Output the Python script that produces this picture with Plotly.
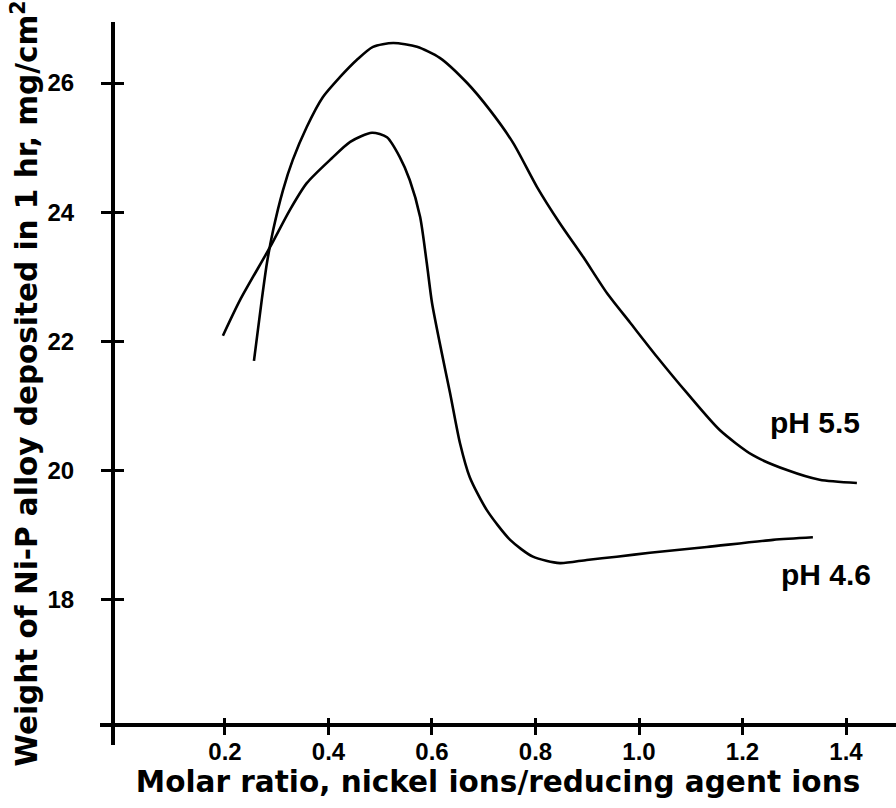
import plotly.graph_objects as go

# pH 5.5 curve (molar ratio, weight mg/cm^2)
ph55_x = [0.256, 0.271, 0.281, 0.293, 0.312, 0.331, 0.358, 0.389, 0.422, 0.455, 0.486,
          0.525, 0.571, 0.615, 0.668, 0.712, 0.757, 0.803, 0.847, 0.892, 0.938, 0.983,
          1.035, 1.093, 1.156, 1.220, 1.286, 1.349, 1.421]
ph55_y = [21.70, 22.64, 23.21, 23.72, 24.34, 24.81, 25.32, 25.78, 26.09, 26.36, 26.56,
          26.62, 26.56, 26.39, 26.00, 25.58, 25.07, 24.39, 23.83, 23.31, 22.75, 22.29,
          21.76, 21.20, 20.63, 20.24, 20.01, 19.86, 19.81]

# pH 4.6 curve
ph46_x = [0.196, 0.229, 0.287, 0.325, 0.358, 0.403, 0.442, 0.484, 0.513, 0.538, 0.557,
          0.577, 0.590, 0.600, 0.619, 0.635, 0.654, 0.673, 0.706, 0.751, 0.795, 0.847,
          0.899, 0.957, 1.021, 1.131, 1.259, 1.336]
ph46_y = [22.09, 22.64, 23.46, 24.03, 24.45, 24.81, 25.09, 25.23, 25.16, 24.85, 24.50,
          23.93, 23.21, 22.60, 21.82, 21.20, 20.43, 19.90, 19.39, 18.93, 18.67, 18.57,
          18.62, 18.67, 18.73, 18.82, 18.93, 18.97]

x_ticks = [0.2, 0.4, 0.6, 0.8, 1.0, 1.2, 1.4]
x_tick_text = ["0.2", "0.4", "0.6", "0.8", "1.0", "1.2", "1.4"]
y_ticks = [18, 20, 22, 24, 26]
y_tick_text = ["18", "20", "22", "24", "26"]

labels = ["pH 5.5", "pH 4.6"]
label_x = [1.341, 1.361]
label_y = [20.75, 18.39]

x_range = [-0.0415, 1.4966]
y_range = [15.756, 26.944]

fig = go.Figure()
fig.add_trace(go.Scatter(x=ph55_x, y=ph55_y, mode="lines", name="pH 5.5",
                         line=dict(color="black", width=2.6, shape="spline", smoothing=0.7)))
fig.add_trace(go.Scatter(x=ph46_x, y=ph46_y, mode="lines", name="pH 4.6",
                         line=dict(color="black", width=2.6, shape="spline", smoothing=0.7)))
# helper trace for the overlay axes (inside tick halves)
fig.add_trace(go.Scatter(x=[None], y=[None], xaxis="x2", yaxis="y2", mode="lines",
                         showlegend=False, hoverinfo="skip"))

for t, lx, ly in zip(labels, label_x, label_y):
    fig.add_annotation(x=lx, y=ly, text="<b>" + t + "</b>", showarrow=False,
                       font=dict(family="Liberation Sans", size=30, color="black"),
                       xanchor="center", yanchor="middle")

tick_font = dict(family="Liberation Sans", size=24, color="black")
title_font = dict(family="DejaVu Sans", size=29.5, color="black")

xpos = 0.0277
ypos = 0.01633

fig.update_layout(
    width=896, height=808,
    margin=dict(l=100, r=0, t=22, b=63),
    paper_bgcolor="white", plot_bgcolor="white",
    showlegend=False,
    xaxis=dict(range=x_range, anchor="free", position=xpos, showgrid=False, zeroline=False,
               showline=True, linecolor="black", linewidth=4,
               ticks="outside", ticklen=8, tickwidth=3, tickcolor="black",
               tickmode="array", tickvals=x_ticks, ticktext=["<b>" + s + "</b>" for s in x_tick_text],
               tickfont=tick_font, automargin=False, ticklabelstandoff=-4,
               title=dict(text="<b>Molar ratio, nickel ions/reducing agent ions</b>",
                          font=title_font, standoff=6)),
    yaxis=dict(range=y_range, anchor="free", position=ypos, showgrid=False, zeroline=False,
               showline=True, linecolor="black", linewidth=4,
               ticks="outside", ticklen=10, tickwidth=3, tickcolor="black",
               tickmode="array", tickvals=y_ticks, ticktext=["<b>" + s + "</b>" for s in y_tick_text],
               tickfont=tick_font, automargin=False, ticklabelstandoff=22,
               title=dict(text="<b>Weight of Ni-P alloy deposited in 1 hr, mg/cm<sup>2</sup></b>",
                          font=title_font, standoff=0)),
    xaxis2=dict(range=x_range, overlaying="x", anchor="free", position=xpos, showgrid=False,
                zeroline=False, showline=False, ticks="inside", ticklen=7, tickwidth=3,
                tickcolor="black", tickmode="array", tickvals=x_ticks, showticklabels=False,
                automargin=False),
    yaxis2=dict(range=y_range, overlaying="y", anchor="free", position=ypos, showgrid=False,
                zeroline=False, showline=False, ticks="inside", ticklen=10, tickwidth=3,
                tickcolor="black", tickmode="array", tickvals=y_ticks, showticklabels=False,
                automargin=False),
)

fig.write_html("out.html", config={"displayModeBar": False},
               post_script="document.body.style.margin='0px';")
